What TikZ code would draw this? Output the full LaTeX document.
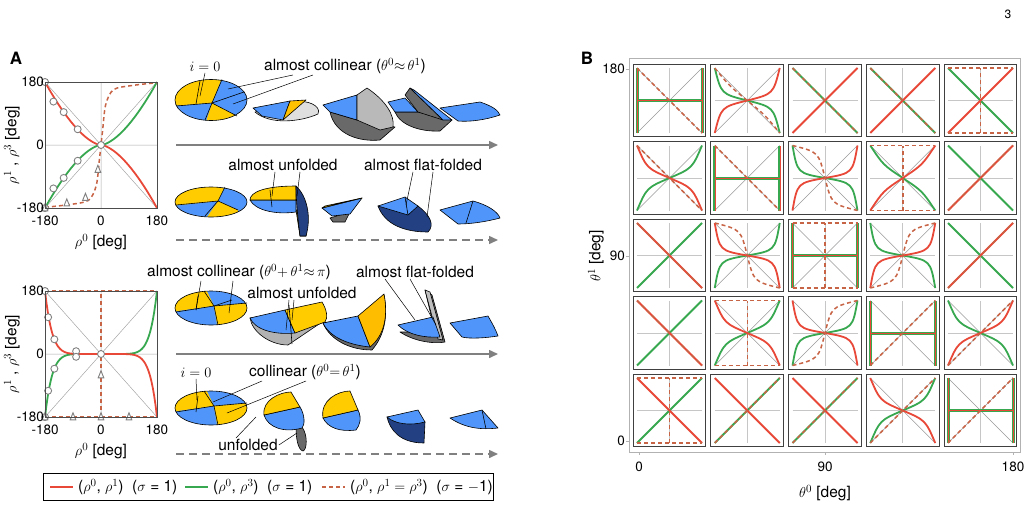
\documentclass[tikz,border=0pt]{standalone}
\usepackage{fontspec}
\setmainfont{TeX Gyre Heros}
\usetikzlibrary{arrows.meta}
\definecolor{cred}{RGB}{232,72,56}
\definecolor{cgreen}{RGB}{56,168,80}
\definecolor{cdash}{RGB}{200,100,70}
\definecolor{cyel}{RGB}{255,204,0}
\definecolor{cblue}{RGB}{80,150,250}
\definecolor{cdark}{RGB}{105,105,105}
\definecolor{cnavy}{RGB}{35,65,130}
\tikzstyle{rline} = [cred, line width=1.8pt]
\tikzstyle{gline} = [cgreen, line width=1.8pt]
\tikzstyle{dline} = [cdash, line width=1.5pt, dash pattern=on 4pt off 3pt]
\tikzstyle{thin} = [gray!70, line width=0.5pt]
\tikzstyle{lab} = [font=\fontsize{15.5}{18}\selectfont, inner sep=1pt]
\tikzstyle{tick} = [font=\fontsize{13.5}{15}\selectfont, inner sep=1pt]
\tikzstyle{piece} = [draw=black, line width=0.6pt, line join=round]
\tikzstyle{arr} = [gray, line width=1.5pt, -{Triangle[length=9pt,width=8pt]}]
\tikzstyle{leader} = [black, line width=0.5pt]
\newcommand\crv[2]{(-1,-#1) .. controls (-#2,-#1*1+#1*#2) .. (0,0) .. controls (#2,#1*1-#1*#2) .. (1,#1)}
\begin{document}
\begin{tikzpicture}[x=1pt,y=-1pt]
\useasboundingbox (0,0) rectangle (1029,509);
\node[font=\fontsize{12}{14}\selectfont] (page) at (1008,14) {3};
\node[font=\fontsize{17}{19}\selectfont\bfseries] (A) at (16,58) {A};
\node[font=\fontsize{17}{19}\selectfont\bfseries] (B) at (587,58) {B};

% panel A, upper plot
\begin{scope}[shift={(101,145)}, x=0.311pt, y=0.35pt]
  \draw[thin] (-180,0) -- (180,0) (0,-180) -- (0,180) (-180,-180) -- (180,180) (-180,180) -- (180,-180);
  \draw[gline] plot[domain=-180:180, samples=60] (\x, {sign(\x)*180*(abs(\x)/180)^1.6});
  \draw[rline] plot[domain=-180:180, samples=60] (\x, {-sign(\x)*180*(abs(\x)/180)^1.6});
  \draw[dline] plot[smooth] coordinates {(-180,-178) (-100,-170) (-40,-158) (-15,-115) (-5,-40) (0,0) (5,40) (15,115) (40,158) (100,170) (180,178)};
  \foreach \px/\py in {-180/180, -153/124, -120/94, -75/45, -180/-180, -153/-124, -120/-94, -75/-45, 0/0}
    \draw[gray, line width=0.9pt, fill=white] (\px,\py) circle (3.5pt);
  \foreach \px/\py in {-180/-180, -110/-166, -50/-150, -10/-70}
    \draw[gray, line width=0.9pt, fill=white] (\px,\py+12) -- ++(-9,-20) -- ++(18,0) -- cycle;
  \draw[black!70, line width=0.8pt] (-180,-180) rectangle (180,180);
  \node[tick, left] (a1y1) at (-180,180) {180};
  \node[tick, left] (a1y0) at (-180,0) {0};
  \node[tick, left] (a1y2) at (-180,-180) {-180};
  \node[tick, below=7pt] (a1x1) at (-180,-180) {-180};
  \node[tick, below=7pt] (a1x0) at (0,-180) {0};
  \node[tick, below=7pt] (a1x2) at (180,-180) {180};
  \node[lab, below=25pt] (a1xl) at (0,-180) {$\rho^0$ [deg]};
  \node[lab, rotate=90, above=24pt] (a1yl) at (-180,0) {$\rho^1$ , $\rho^3$ [deg]};
\end{scope}

% panel A, lower plot
\begin{scope}[shift={(101,354)}, x=0.311pt, y=0.35pt]
  \draw[thin] (-180,0) -- (180,0) (0,-180) -- (0,180) (-180,-180) -- (180,180) (-180,180) -- (180,-180);
  \draw[gline] plot[domain=-180:180, samples=80] (\x, {sign(\x)*180*(abs(\x)/180)^8});
  \draw[rline] plot[domain=-180:180, samples=80] (\x, {-sign(\x)*180*(abs(\x)/180)^8});
  \draw[dline] (-180,180) -- (180,180) (-180,-180) -- (180,-180) (0,-180) -- (0,180);
  \foreach \px/\py in {-180/180, -170/105, -150/42, -80/8, -180/-180, -170/-105, -150/-42, -80/-8, 0/0}
    \draw[gray, line width=0.9pt, fill=white] (\px,\py) circle (3.5pt);
  \foreach \px/\py in {-180/-180, -90/-180, 0/-180, 90/-180, 0/-60}
    \draw[gray, line width=0.9pt, fill=white] (\px,\py+12) -- ++(-9,-20) -- ++(18,0) -- cycle;
  \draw[black!70, line width=0.8pt] (-180,-180) rectangle (180,180);
  \node[tick, left] (a2y1) at (-180,180) {180};
  \node[tick, left] (a2y0) at (-180,0) {0};
  \node[tick, left] (a2y2) at (-180,-180) {-180};
  \node[tick, below=7pt] (a2x1) at (-180,-180) {-180};
  \node[tick, below=7pt] (a2x0) at (0,-180) {0};
  \node[tick, below=7pt] (a2x2) at (180,-180) {180};
  \node[lab, below=25pt] (a2xl) at (0,-180) {$\rho^0$ [deg]};
  \node[lab, rotate=90, above=24pt] (a2yl) at (-180,0) {$\rho^1$ , $\rho^3$ [deg]};
\end{scope}

% row 1 sketches
\begin{scope}
  \clip (211,100) ellipse (36 and 20.5);
  \fill[cblue] (170,75) rectangle (250,125);
  \fill[cyel] (212,103) -- (222,78) -- (170,75) -- (170,106) -- cycle;
  \fill[cyel] (212,103) -- (205,125) -- (245,125) -- (237,116) -- cycle;
\end{scope}
\draw[piece] (211,100) ellipse (36 and 20.5);
\draw[piece] (222,79.5) -- (212,103) -- (176,106) (212,103) -- (205,120) (212,103) -- (237,116);
\draw[piece] (200,81) -- (196,104) (212,103) -- (244,92);
\draw[piece, fill=gray!25] (255,112) .. controls (270,125) and (300,122) .. (318,114) .. controls (322,105) and (305,100) .. (298,102) -- cycle;
\draw[piece, fill=cblue] (253,108) -- (290,101) -- (283,120) -- (262,116) -- cycle;
\draw[piece, fill=cyel!85!orange] (290,101) -- (306,100) -- (283,120) -- cycle;
\draw[piece, fill=cdark] (330,112) .. controls (335,135) and (360,142) .. (380,140) -- (395,127) -- (357,120) -- cycle;
\draw[piece, fill=cblue] (323,105) -- (357,95) -- (357,120) -- (330,112) -- cycle;
\draw[piece, fill=gray!55] (357,95) -- (367,88) .. controls (385,100) and (395,115) .. (393,127) -- (380,130) -- (357,120) -- cycle;
\draw[piece, fill=cdark] (395,112) .. controls (400,125) and (420,132) .. (440,131) -- (452,120) -- (418,112) -- cycle;
\draw[piece, fill=cblue] (388,102) -- (405,98) -- (418,112) -- (395,112) -- cycle;
\draw[piece, fill=cdark] (405,95) -- (410,88) -- (443,120) -- (418,112) -- cycle;
\draw[piece, fill=cblue] (410,88) -- (414,90) -- (452,120) -- (443,120) -- cycle;
\draw[piece, fill=cblue] (440,108) -- (480,102) .. controls (492,106) and (498,110) .. (500,115) .. controls (485,120) and (470,122) .. (458,121) -- cycle;
\draw[arr] (176,145) -- (498,145);
\node[lab] (i0a) at (205,67) {$i=0$};
\node[lab] (colla) at (345,66) {almost collinear ($\theta^0{\approx}\,\theta^1$)};
\coordinate (i0ae) at (200,96);
\coordinate (colla1) at (228,89);
\coordinate (colla2) at (233,104);
\draw[leader] (i0a.south) -- (i0ae);
\draw[leader] (colla.south west) ++(30,0) -- (colla1);
\draw[leader] (colla.south west) ++(50,0) -- (colla2);

% row 2 sketches
\begin{scope}
  \clip (211,202) ellipse (36 and 15);
  \fill[cblue] (170,180) rectangle (250,220);
  \fill[cyel] (218,201) -- (225,186) -- (170,180) -- (170,206) -- cycle;
  \fill[cyel] (218,201) -- (205,220) -- (240,220) -- (238,210) -- cycle;
\end{scope}
\draw[piece] (211,202) ellipse (36 and 15);
\draw[piece] (225,187) -- (218,201) -- (176,205) (218,201) -- (205,216) (218,201) -- (238,210);
\draw[piece, fill=cyel!55!black] (296,210) -- (300,236) -- (306,236) -- (306,210) -- cycle;
\draw[piece, fill=cblue] (250,200) .. controls (255,210) and (275,215) .. (296,212) -- (296,200) -- cycle;
\draw[piece, fill=cyel] (250,200) .. controls (250,192) and (265,186) .. (296,186) -- (296,200) -- cycle;
\draw[piece] (270,190) -- (272,207);
\draw[piece, fill=cnavy] (296,186) .. controls (306,195) and (312,215) .. (306,236) -- (300,236) .. controls (298,220) and (296,200) .. (296,186) -- cycle;
\draw[piece, fill=cdark] (330,218) -- (350,212) -- (345,222) -- (333,222) -- cycle;
\draw[piece, fill=cblue] (322,208) -- (362,198) -- (350,214) -- (332,216) -- cycle;
\draw[piece, fill=cyel] (322,208) -- (362,198) -- (325,206) -- cycle;
\draw[piece, fill=cnavy] (378,206) .. controls (385,225) and (405,232) .. (428,232) .. controls (435,225) and (430,215) .. (418,206) -- cycle;
\draw[piece, fill=cblue] (378,206) -- (405,197) -- (418,206) -- (408,215) -- cycle;
\draw[piece] (405,197) -- (408,215);
\draw[piece, fill=cblue] (440,210) -- (473,201) .. controls (488,205) and (498,212) .. (500,218) .. controls (485,222) and (470,224) .. (458,224) -- cycle;
\draw[piece] (473,201) -- (466,223);
\draw[arr, dash pattern=on 8pt off 5pt] (176,240) -- (498,240);
\node[lab] (unfa) at (283,165) {almost unfolded};
\node[lab] (flata) at (423,165) {almost flat-folded};
\coordinate (unfa1) at (272,196);
\coordinate (unfa2) at (297,196);
\coordinate (flata1) at (406,205);
\coordinate (flata2) at (427,217);
\draw[leader] (unfa.south) ++(-8,0) -- (unfa1);
\draw[leader] (unfa.south) ++(17,0) -- (unfa2);
\draw[leader] (flata.south) ++(-10,0) -- (flata1);
\draw[leader] (flata.south) ++(10,0) -- (flata2);

% row 3 sketches
\begin{scope}
  \clip (211,308) ellipse (36 and 17);
  \fill[cblue] (170,285) rectangle (250,330);
  \fill[cyel] (214,306) -- (204,285) -- (170,285) -- (170,312) -- cycle;
  \fill[cyel] (214,306) -- (248,303) -- (250,330) -- (218,330) -- cycle;
\end{scope}
\draw[piece] (211,308) ellipse (36 and 17);
\draw[piece] (204,291) -- (214,306) -- (176,312) (214,306) -- (218,325) (214,306) -- (247,303);
\draw[piece] (198,296) -- (196,310) (214,306) -- (232,300);
\draw[piece, fill=gray!60] (250,318) .. controls (252,332) and (270,345) .. (288,345) -- (325,320) -- (290,318) -- cycle;
\draw[piece, fill=cblue] (250,318) -- (285,310) -- (295,333) .. controls (275,335) and (255,330) .. (250,318) -- cycle;
\draw[piece, fill=cyel] (285,310) -- (322,302) .. controls (327,310) and (328,318) .. (325,322) -- (295,333) -- cycle;
\draw[piece] (289,305) -- (292,344);
\draw[piece, fill=cdark] (323,323) .. controls (330,340) and (350,350) .. (372,350) .. controls (385,335) and (388,315) .. (384,295) -- (358,318) -- cycle;
\draw[piece, fill=cblue] (323,323) -- (358,316) -- (370,347) .. controls (350,345) and (330,338) .. (323,323) -- cycle;
\draw[piece, fill=cyel!80!orange] (358,316) -- (384,294) .. controls (388,315) and (385,335) .. (370,347) -- cycle;
\draw[piece, fill=cdark] (400,332) .. controls (415,342) and (435,344) .. (445,342) -- (432,295) -- (425,290) -- (435,332) -- cycle;
\draw[piece, fill=gray!50] (425,290) -- (430,292) -- (443,340) -- (438,339) -- cycle;
\draw[piece, fill=cblue] (398,325) -- (433,317) -- (440,337) .. controls (425,338) and (408,335) .. (398,325) -- cycle;
\draw[piece, fill=cblue] (450,323) -- (488,316) .. controls (492,323) and (496,330) .. (498,336) .. controls (485,338) and (470,339) .. (462,337) -- cycle;
\draw[arr] (176,354) -- (498,354);
\node[lab] (collb) at (239,272) {almost collinear ($\theta^0{+}\,\theta^1{\approx}\,\pi$)};
\node[lab] (unfb) at (302,293) {almost unfolded};
\node[lab] (flatb) at (415,272) {almost flat-folded};
\coordinate (collb1) at (196,310);
\coordinate (collb2) at (229,313);
\coordinate (unfb1) at (286,330);
\coordinate (unfb2) at (292,320);
\coordinate (flatb1) at (415,320);
\coordinate (flatb2) at (436,325);
\draw[leader] (collb.south) ++(-38,0) -- (collb1);
\draw[leader] (collb.south) ++(-6,0) -- (collb2);
\draw[leader] (unfb.south) ++(-13,0) -- (unfb1);
\draw[leader] (unfb.south) ++(-8,0) -- (unfb2);
\draw[leader] (flatb.south) ++(-30,0) -- (flatb1);
\draw[leader] (flatb.south) ++(-5,0) -- (flatb2);

% row 4 sketches
\begin{scope}
  \clip (211,408) ellipse (36 and 17);
  \fill[cblue] (170,385) rectangle (250,430);
  \fill[cyel] (214,406) -- (204,385) -- (170,385) -- (170,412) -- cycle;
  \fill[cyel] (214,406) -- (248,403) -- (250,430) -- (218,430) -- cycle;
\end{scope}
\draw[piece] (211,408) ellipse (36 and 17);
\draw[piece] (204,391) -- (214,406) -- (176,412) (214,406) -- (218,425) (214,406) -- (247,403);
\draw[piece] (198,396) -- (196,412);
\draw[piece, fill=cdark] (296,428) -- (302,427) .. controls (308,435) and (307,450) .. (303,451) .. controls (298,450) and (296,438) .. (296,428) -- cycle;
\draw[piece, fill=cblue] (264,415) -- (300,407) .. controls (305,415) and (305,425) .. (302,428) .. controls (285,433) and (268,428) .. (264,415) -- cycle;
\draw[piece, fill=cyel] (264,415) .. controls (262,400) and (280,392) .. (291,392) -- (300,407) -- cycle;
\draw[piece, fill=cblue] (323,418) -- (358,410) .. controls (362,418) and (360,425) .. (356,430) .. controls (340,432) and (328,428) .. (323,418) -- cycle;
\draw[piece, fill=cyel] (323,418) .. controls (320,400) and (338,391) .. (350,391) -- (358,410) -- cycle;
\draw[piece, fill=cnavy] (387,417) .. controls (390,430) and (400,443) .. (424,443) -- (425,422) -- cycle;
\draw[piece, fill=cblue] (387,417) -- (418,410) -- (425,422) .. controls (410,426) and (395,424) .. (387,417) -- cycle;
\draw[piece, fill=cblue] (450,418) -- (482,410) -- (498,428) .. controls (480,430) and (465,428) .. (450,418) -- cycle;
\draw[piece] (482,410) -- (486,429);
\draw[arr, dash pattern=on 8pt off 5pt] (176,454) -- (498,454);
\node[lab] (i0b) at (196,373) {$i=0$};
\node[lab] (collc) at (305,372) {collinear ($\theta^0{=}\,\theta^1$)};
\node[lab] (unfc) at (248,445) {unfolded};
\coordinate (i0be) at (197,400);
\coordinate (collc1) at (213,402);
\coordinate (collc2) at (227,413);
\coordinate (unfc1) at (256,417);
\coordinate (unfc2) at (297,433);
\draw[leader] (i0b.south) -- (i0be);
\draw[leader] (collc.south west) ++(14,0) -- (collc1);
\draw[leader] (collc.south west) ++(58,0) -- (collc2);
\draw[leader] (unfc.north) ++(-12,0) -- (unfc1);
\draw[leader] (unfc.east) -- (unfc2);

% legend
\draw[black, line width=0.6pt] (43,473) rectangle (493,500);
\draw[rline] (50,487) -- (73,487);
\node[lab, right] (leg1) at (77,487) {($\rho^0$, $\rho^1$) \ ($\sigma$ = 1)};
\draw[gline] (185,487) -- (208,487);
\node[lab, right] (leg2) at (212,487) {($\rho^0$, $\rho^3$) \ ($\sigma$ = 1)};
\draw[dline] (322,487) -- (345,487);
\node[lab, right] (leg3) at (349,487) {($\rho^0$, $\rho^1 = \rho^3$) \ ($\sigma$ = $-$1)};

% panel B
\draw[gray!60, line width=0.8pt] (629,58) rectangle (1020,452);
\draw[gray!60] (626,69) -- (629,69) (626,256) -- (629,256) (626,441) -- (629,441);
\draw[gray!60] (639,452) -- (639,455) (825,452) -- (825,455) (1013,452) -- (1013,455);
\node[tick, left] (by1) at (626,69) {180};
\node[tick, left] (by0) at (626,256) {90};
\node[tick, left] (by2) at (626,441) {0};
\node[tick] (bx1) at (639,467) {0};
\node[tick] (bx0) at (825,467) {90};
\node[tick] (bx2) at (1013,467) {180};
\node[lab] (bxl) at (825,493) {$\theta^0$ [deg]};
\node[lab, rotate=90] (byl) at (596,256) {$\theta^1$ [deg]};
\foreach \c/\r/\rd/\rt/\gd/\gt/\dd/\dt in {
  1/1/1/0/1/0/-1/0.5, 2/1/1/0.8/-1/0.8/-1/0.55, 3/1/1/0.5/-1/0.5/-1/0.5, 4/1/1/0.5/-1/0.5/-1/0.5, 5/1/1/0.5/-1/0.5/0/0,
  1/2/-1/0.7/1/0.7/-1/0.5, 2/2/1/0/1/0/-1/0.5, 3/2/1/0.85/-1/0.85/-1/0.2, 4/2/1/0.6/-1/0.6/0/0, 5/2/1/0.5/-1/0.5/1/0.5,
  1/3/-1/0.5/1/0.5/-1/0.5, 2/3/-1/0.85/1/0.85/-1/0.2, 3/3/1/0/1/0/0/0, 4/3/1/0.85/-1/0.85/1/0.2, 5/3/1/0.5/-1/0.5/1/0.5,
  1/4/-1/0.5/1/0.5/-1/0.5, 2/4/-1/0.7/1/0.7/0/0, 3/4/-1/0.85/1/0.85/1/0.2, 4/4/1/0/1/0/1/0.5, 5/4/1/0.7/-1/0.7/1/0.5,
  1/5/-1/0.5/1/0.5/0/0, 2/5/-1/0.5/1/0.5/1/0.5, 3/5/-1/0.5/1/0.5/1/0.5, 4/5/-1/0.7/1/0.7/1/0.5, 5/5/1/0/1/0/1/0.5} {
  \begin{scope}[shift={({669.5+77.75*(\c-1)},{100.5+77.5*(\r-1)})}, x=32.5pt, y=32.5pt]
    \draw[black!75, line width=1pt, fill=white] (-1.12,-1.12) rectangle (1.12,1.12);
    \draw[gray!45, line width=0.8pt] (-1,0) -- (1,0) (0,-1) -- (0,1);
    \draw[gray!80, line width=0.4pt] (-1,-1) -- (1,1) (-1,1) -- (1,-1);
    \ifdim\rt pt=0pt
      \draw[cgreen, line width=3pt] (-1,-1) -- (-1,1) (1,-1) -- (1,1) (-1,0) -- (1,0);
      \draw[cred, line width=0.3pt] (-1,-1) -- (-1,1) (1,-1) -- (1,1) (-1,0) -- (1,0);
    \else
      \draw[gline] \crv{\gd}{\gt};
      \draw[rline] \crv{\rd}{\rt};
    \fi
    \ifnum\dd=0
      \draw[dline] (-1,1) -- (1,1) (-1,-1) -- (1,-1) (0,-1) -- (0,1);
    \else
      \draw[dline] \crv{\dd}{\dt};
    \fi
  \end{scope}
}
\end{tikzpicture}
\end{document}
